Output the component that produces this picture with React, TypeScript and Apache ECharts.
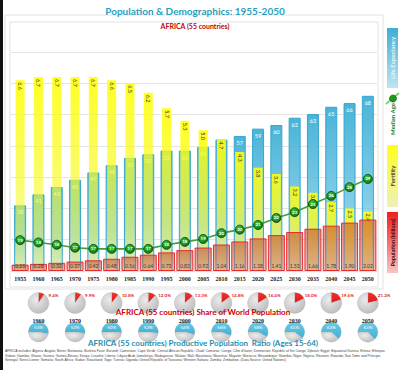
import React, { useEffect, useRef } from 'react';
import * as echarts from 'echarts';

const years = ['1955','1960','1965','1970','1975','1980','1985','1990','1995','2000','2005','2010','2015','2020','2025','2030','2035','2040','2045','2050'];
const fertility = [6.6, 6.7, 6.7, 6.7, 6.7, 6.6, 6.5, 6.2, 5.7, 5.3, 5.0, 4.7, 4.3, 3.8, 3.6, 3.2, 3.0, 2.7, 2.5, 2.4];
const lifeExpectancy = [38, 41, 43, 45, 47, 49, 51, 52, 53, 53, 54, 56, 57, 59, 60, 62, 63, 65, 66, 68];
const population = [0.25, 0.28, 0.32, 0.37, 0.42, 0.48, 0.56, 0.64, 0.73, 0.82, 0.92, 1.04, 1.16, 1.28, 1.41, 1.53, 1.66, 1.78, 1.90, 2.02];
const medianAge = [18.5, 18.1, 17.7, 17.2, 17.0, 17.0, 17.0, 17.0, 17.7, 18.2, 18.7, 19.7, 20.3, 21.1, 22.3, 23.3, 24.7, 26.1, 27.6, 29.0];

const pieYears = ['1960','1970','1980','1990','2000','2010','2020','2030','2040','2050'];
const worldShare = [9.4, 9.9, 10.8, 12.0, 13.3, 14.8, 16.4, 18.0, 19.6, 21.2];
const productiveRatio = [53, 52, 50, 52, 54, 56, 58, 61, 62, 63];

const mainTitle = 'Population & Demographics: 1955-2050';
const subTitle = 'AFRICA (55 countries)';
const shareTitle = 'AFRICA (55 countries) Share of World Population';
const ratioTitle = 'AFRICA (55 countries) Productive Population  Ratio (Ages 15-64)';
const noteLines = [
  "AFRICA includes: Algeria; Angola; Benin; Botswana; Burkina Faso; Burundi; Cameroon; Cape Verde; Central African Republic; Chad; Comoros; Congo; Côte d'Ivoire; Democratic Republic of the Congo; Djibouti; Egypt; Equatorial Guinea; Eritrea; Ethiopia;",
  'Gabon; Gambia; Ghana; Guinea; Guinea-Bissau; Kenya; Lesotho; Liberia; Libyan Arab Jamahiriya; Madagascar; Malawi; Mali; Mauritania; Mauritius; Mayotte; Morocco; Mozambique; Namibia; Niger; Nigeria; Réunion; Rwanda; Sao Tome and Príncipe;',
  'Senegal; Sierra Leone; Somalia; South Africa; Sudan; Swaziland; Togo; Tunisia; Uganda; United Republic of Tanzania; Western Sahara; Zambia; Zimbabwe. (Data Source: United Nations)',
];

const GL = 11, GR = 377, GT = 52, GB = 271;
const W = 400, H = 370;

function lg(stops: [number, string][]) {
  return new echarts.graphic.LinearGradient(0, 0, 0, 1, stops.map(([offset, color]) => ({ offset, color })));
}

export default function App() {
  const ref = useRef<HTMLDivElement>(null);
  useEffect(() => {
    const chart = echarts.init(ref.current!, null, { renderer: 'svg' });
    const band = (GR - GL) / years.length;
    const catX = (y: string) => GL + band * (years.indexOf(y) + 0.5);

    const pieSeries: any[] = [];
    pieYears.forEach((yr, i) => {
      const cx = catX(yr);
      const cy1 = 303;
      const cy2 = 332;
      pieSeries.push({
        type: 'pie', center: [cx, cy1], radius: [0, 10.5], startAngle: 90, clockwise: true,
        silent: true, z: 5, avoidLabelOverlap: false,
        label: { show: true, position: 'outside', formatter: (p: any) => p.value.toFixed(1) + '%', color: '#e01e1e', fontSize: 4.5, fontWeight: 'bold', fontFamily: 'Lato' },
        labelLine: { show: false },
        labelLayout: () => ({ x: cx + 10, y: cy1 - 8, align: 'left', verticalAlign: 'middle' }),
        itemStyle: { borderColor: 'rgba(160,160,160,0.6)', borderWidth: 0.4 },
        data: [
          { value: worldShare[i], name: 'Africa', itemStyle: { color: lg([[0, '#f0302a'], [1, '#d81c1c']]) } },
          { value: 100 - worldShare[i], name: 'Rest', label: { show: false }, itemStyle: { color: new echarts.graphic.RadialGradient(0.4, 0.35, 0.8, [{ offset: 0, color: '#ececec' }, { offset: 1, color: '#b4b4b4' }]) } },
        ],
      });
      pieSeries.push({
        type: 'pie', center: [cx, cy2], radius: [0, 10], startAngle: 180, clockwise: true,
        silent: true, z: 5, avoidLabelOverlap: false,
        label: { show: true, position: 'inside', formatter: (p: any) => p.value + '%', color: '#ffffff', fontSize: 4.5, fontFamily: 'Lato' },
        labelLine: { show: false },
        labelLayout: () => ({ x: cx, y: cy2 - 5, align: 'center', verticalAlign: 'middle' }),
        itemStyle: { borderColor: 'rgba(160,160,160,0.6)', borderWidth: 0.4 },
        data: [
          { value: productiveRatio[i], name: 'Productive', itemStyle: { color: lg([[0, '#6ccbe6'], [1, '#3fb0d4']]) } },
          { value: 100 - productiveRatio[i], name: 'Other', label: { show: false }, itemStyle: { color: new echarts.graphic.RadialGradient(0.4, 0.35, 0.8, [{ offset: 0, color: '#ececec' }, { offset: 1, color: '#b4b4b4' }]) } },
        ],
      });
    });

    const yearTexts = pieYears.map((yr) => ({
      type: 'text', x: catX(yr), y: 320.5, z: 8,
      style: { text: yr, fontFamily: 'Liberation Serif', fontWeight: 'bold', fontSize: 6, fill: '#222', align: 'center', verticalAlign: 'middle' },
    }));

    const noteTexts = noteLines.map((t, i) => ({
      type: 'text', x: 5, y: 351 + i * 4.6, z: 8,
      style: { text: t, fontFamily: 'Liberation Sans', fontSize: 3.4, fill: '#444', align: 'left', verticalAlign: 'middle' },
    }));

    const option: any = {
      animation: false,
      backgroundColor: '#ffffff',
      grid: { left: GL, right: W - GR, top: GT, bottom: H - GB, containLabel: false },
      xAxis: [
        { type: 'category', data: years, gridIndex: 0, axisLine: { show: false }, axisTick: { show: false },
          axisLabel: { interval: 0, fontFamily: 'Liberation Serif', fontWeight: 'bold', fontSize: 6, color: '#222', margin: 5 } },
        { type: 'category', data: years, gridIndex: 0, show: false },
        { type: 'category', data: years, gridIndex: 0, show: false },
      ],
      yAxis: [
        { type: 'value', min: 0, max: 7, interval: 1, axisLabel: { show: false }, axisLine: { show: false }, axisTick: { show: false }, splitLine: { lineStyle: { color: '#e4e4e4', width: 1 } } },
        { type: 'value', min: 0.5, max: 7.5, startValue: 0.5, show: false, splitLine: { show: false } },
        { type: 'value', min: 20, max: 80, startValue: 20, show: false, splitLine: { show: false } },
        { type: 'value', min: 0, max: 8.6, show: false, splitLine: { show: false } },
        { type: 'value', min: 13.2, max: 50.8, show: false, splitLine: { show: false } },
      ],
      series: [
        {
          name: 'Life Expectancy', type: 'bar', xAxisIndex: 0, yAxisIndex: 2, data: lifeExpectancy, barWidth: 12, z: 2,
          itemStyle: { color: lg([[0, 'rgba(64,176,214,0.95)'], [0.6, 'rgba(110,196,226,0.85)'], [1, 'rgba(200,234,244,0.8)']]), borderColor: '#35a7d0', borderWidth: 1 },
          label: { show: true, position: 'insideTop', distance: 4, color: '#ffffff', fontSize: 5.5, fontFamily: 'Lato' },
        },
        {
          name: 'Fertility', type: 'bar', xAxisIndex: 1, yAxisIndex: 1, data: fertility, barWidth: 9, z: 3,
          itemStyle: { color: lg([[0, 'rgba(255,255,10,0.9)'], [0.5, 'rgba(248,250,40,0.7)'], [1, 'rgba(238,244,90,0.4)']]) },
          label: { show: true, position: 'insideTop', distance: 2, rotate: -90, align: 'left', verticalAlign: 'middle', color: '#333', fontSize: 5.5, fontFamily: 'Lato', formatter: (p: any) => p.value.toFixed(1) },
        },
        {
          name: 'Population (billions)', type: 'bar', xAxisIndex: 2, yAxisIndex: 3, data: population, barWidth: 17, z: 4,
          itemStyle: { color: lg([[0, 'rgba(200,60,30,0.55)'], [1, 'rgba(220,80,60,0.38)']]), borderColor: '#e82a2a', borderWidth: 1 },
          label: { show: true, position: 'insideBottom', distance: 3, color: '#3a3a3a', fontSize: 5, fontFamily: 'Lato', formatter: (p: any) => p.value.toFixed(2) },
        },
        {
          name: 'Median Age', type: 'line', xAxisIndex: 0, yAxisIndex: 4, data: medianAge, z: 6,
          symbol: 'circle', symbolSize: 9,
          lineStyle: { color: '#3f9f33', width: 1.6 },
          itemStyle: { color: new echarts.graphic.RadialGradient(0.4, 0.35, 0.7, [{ offset: 0, color: '#3cc83c' }, { offset: 1, color: '#0f6e0f' }]), borderColor: '#0a440a', borderWidth: 0.8 },
          label: { show: true, position: 'inside', formatter: (p: any) => String(Math.round(p.value)), color: '#ffffff', fontSize: 4.5, fontWeight: 'bold', fontFamily: 'Lato' },
        },
        ...pieSeries,
      ],
      graphic: [
        { type: 'rect', z: -10, shape: { x: 0, y: 0, width: 3, height: H }, style: { fill: '#111' } },
        { type: 'rect', z: -10, shape: { x: 5, y: 15, width: 378, height: 274 }, style: { fill: 'none', stroke: '#e2e2e2', lineWidth: 1 } },
        { type: 'rect', z: -10, shape: { x: 10, y: 22, width: 368, height: 265 }, style: { fill: 'none', stroke: '#e2e2e2', lineWidth: 1 } },
        { type: 'text', x: 195, y: 10.5, z: 8, style: { text: mainTitle, fontFamily: 'Lato', fontWeight: 'bold', fontSize: 10, fill: '#2a9fbd', align: 'center', verticalAlign: 'middle' } },
        { type: 'text', x: 195, y: 26, z: 8, style: { text: subTitle, fontFamily: 'Lato', fontWeight: 'bold', fontSize: 7, fill: '#c40000', align: 'center', verticalAlign: 'middle' } },
        // legend strip
        { type: 'rect', z: 8, shape: { x: 387, y: 28, width: 11, height: 60 }, style: { fill: lg([[0, '#3eaed4'], [1, '#bfe4f0']]) } },
        { type: 'text', x: 392.5, y: 58, z: 9, rotation: Math.PI / 2, style: { text: 'Life Expectancy', fontFamily: 'Lato', fontWeight: 'bold', fontSize: 6, fill: '#eaf7fb', align: 'center', verticalAlign: 'middle' } },
        { type: 'line', z: 8, shape: { x1: 386, y1: 104, x2: 399, y2: 93 }, style: { stroke: '#7fd46a', lineWidth: 2 } },
        { type: 'circle', z: 9, shape: { cx: 393, cy: 98.5, r: 3.5 }, style: { fill: '#1c9a1c', stroke: '#0a440a', lineWidth: 0.6 } },
        { type: 'text', x: 392.5, y: 119, z: 9, rotation: Math.PI / 2, style: { text: 'Median Age', fontFamily: 'Lato', fontWeight: 'bold', fontSize: 6, fill: '#1d7f1d', align: 'center', verticalAlign: 'middle' } },
        { type: 'rect', z: 8, shape: { x: 387, y: 145, width: 11, height: 62 }, style: { fill: lg([[0, '#ffff1e'], [1, '#eef0b8']]) } },
        { type: 'text', x: 392.5, y: 176, z: 9, rotation: Math.PI / 2, style: { text: 'Fertility', fontFamily: 'Lato', fontWeight: 'bold', fontSize: 6, fill: '#444', align: 'center', verticalAlign: 'middle' } },
        { type: 'rect', z: 8, shape: { x: 387, y: 212, width: 11, height: 61 }, style: { fill: lg([[0, '#f01e1e'], [1, '#f8c4c4']]) } },
        { type: 'text', x: 392.5, y: 242.5, z: 9, rotation: Math.PI / 2, style: { text: 'Population (billions)', fontFamily: 'Lato', fontWeight: 'bold', fontSize: 5.5, fill: '#3a1010', align: 'center', verticalAlign: 'middle' } },
        // pie titles
        { type: 'text', x: 203, y: 312, z: 10, style: { text: shareTitle, fontFamily: 'Lato', fontWeight: 'bold', fontSize: 8, fill: '#cc0000', align: 'center', verticalAlign: 'middle' } },
        { type: 'text', x: 203, y: 343, z: 10, style: { text: ratioTitle, fontFamily: 'Lato', fontWeight: 'bold', fontSize: 8, fill: '#1f8fb3', align: 'center', verticalAlign: 'middle' } },
        ...yearTexts,
        ...noteTexts,
      ],
    };
    chart.setOption(option);
    return () => chart.dispose();
  }, []);
  return <div ref={ref} style={{ position: 'absolute', left: 0, top: 0, width: W, height: H }} />;
}
